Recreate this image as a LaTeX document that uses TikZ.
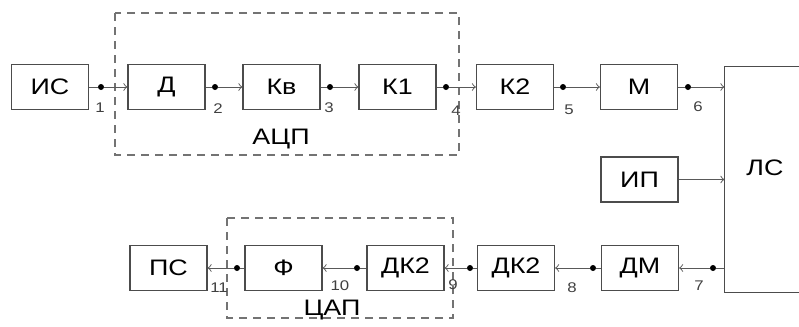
\documentclass[tikz,border=0pt]{standalone}
\usepackage{fontspec}
\setmainfont{Liberation Sans}[FakeStretch=1.2]
\usetikzlibrary{arrows}

\begin{document}
\begin{tikzpicture}
[x=0.5pt,y=-0.5pt,
 nodedecorate/.style={shape=rectangle,draw=black!70,line width=0.6pt,
   minimum width=38.5pt,minimum height=22.5pt,inner sep=0pt,
   font=\fontsize{11.2}{13}\selectfont},
 dotdecorate/.style={shape=circle,fill=black,inner sep=0pt,minimum size=3pt},
 numdecorate/.style={inner sep=0pt,text=black!75,font=\fontsize{7}{8}\selectfont},
 linedecorate/.style={-,draw=black!65,line width=0.5pt},
 arrowdecorate/.style={-to,draw=black!65,line width=0.5pt},
 groupdecorate/.style={draw=black!55,line width=0.6pt,dash pattern=on 4pt off 3pt}]
\useasboundingbox (0,0) rectangle (799,327);
%% blocks
\foreach \nodename/\x/\y/\blocktext in {IS/50/87/ИС, D/166.5/87/Д,
  Kv/281.5/87/Кв, K1/397.5/87/К1, K2/515/87/К2, M/639/87/М,
  IP/639.5/179.5/ИП, DM/640/268/ДМ, DKb/516/268/ДК2,
  DKa/405.5/268/ДК2, F/283.5/268/Ф, PS/168.5/268/ПС}
{
  \node (\nodename) at (\x,\y) [nodedecorate] {\blocktext};
}
%% the line block runs off the right edge
\node (LS) at (767.5,179.5) [nodedecorate,draw=none,minimum width=42.5pt,minimum height=112.5pt] {};
\draw[black!70,line width=0.6pt] (LS.north east) -- (LS.north west) -- (LS.south west) -- (LS.south east);
\node (LStext) at (765,168) [font=\fontsize{11.2}{13}\selectfont] {ЛС};
%% groups
\draw[groupdecorate] (115,13) rectangle (459,155);
\draw[groupdecorate] (227,218) rectangle (453,318);
\node (ADC) at (281,139) [font=\fontsize{11.2}{13}\selectfont] {АЦП};
\node (DAC) at (332,310) [font=\fontsize{11.2}{13}\selectfont] {ЦАП};
%% points and their numbers
\foreach \dotname/\x/\y/\num/\nx/\ny in {p1/101/87/1/100/108,
  p2/215/87/2/218/109, p3/330/87/3/329/108, p4/446/87/4/456/111,
  p5/563/87/5/569/110, p6/688/87/6/698/107, p7/713/268/7/699/286,
  p8/593/268/8/572/288, p9/470/268/9/453/285, p10/357/268/10/340/286,
  p11/237/268/11/219/288}
{
  \node (\dotname) at (\x,\y) [dotdecorate] {};
  \node (n\dotname) at (\nx,\ny) [numdecorate] {\num};
}
%% lines
\path
\foreach \startnode/\endnode in {IS/p1, D/p2, Kv/p3, K1/p4, K2/p5, M/p6,
  DM/p8, DKb/p9, DKa/p10, F/p11}
{
  (\startnode) edge[linedecorate] (\endnode)
};
\draw[linedecorate] (p7 -| LS.west) -- (p7);
%% arrows
\path
\foreach \startnode/\endnode in {p1/D, p2/Kv, p3/K1, p4/K2, p5/M,
  p7/DM, p8/DKb, p9/DKa, p10/F, p11/PS}
{
  (\startnode) edge[arrowdecorate] (\endnode)
};
\draw[arrowdecorate] (p6) -- (p6 -| LS.west);
\draw[arrowdecorate] (IP) -- (IP -| LS.west);
\end{tikzpicture}
\end{document}
